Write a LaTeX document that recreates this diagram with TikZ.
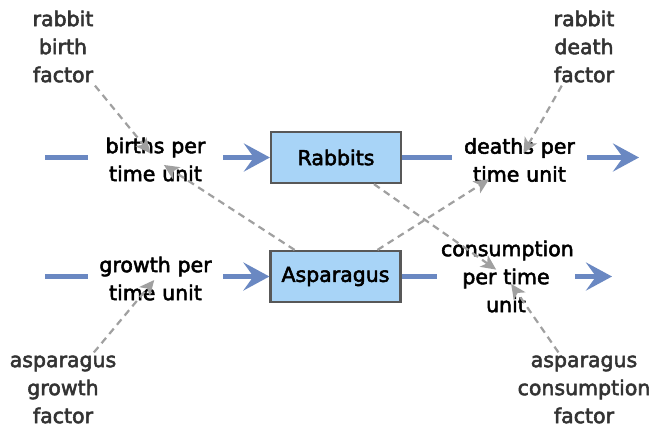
\documentclass[tikz,border=0pt]{standalone}
\usepackage{fontspec}
\setmainfont{DejaVu Sans}[FakeBold=2.6]
\usetikzlibrary{arrows.meta}
\definecolor{flowblue}{RGB}{106,136,194}
\definecolor{boxfill}{RGB}{168,212,247}
\definecolor{boxline}{RGB}{88,88,88}
\definecolor{inflgray}{RGB}{160,160,160}
\definecolor{factxt}{RGB}{51,51,51}
\begin{document}
\begin{tikzpicture}[x=1pt,y=-1pt,
  txt/.style={font=\fontsize{20.5pt}{28pt}\selectfont, align=center},
  stock/.style={txt, draw=boxline, line width=2.2pt, fill=boxfill, minimum width=130pt, minimum height=51pt, inner sep=0pt},
  rate/.style={txt, text width=127pt, inner xsep=4pt, inner ysep=2pt, text=black},
  factor/.style={txt, inner sep=3pt, text=factxt},
  flow/.style={draw=flowblue, line width=4.5pt},
  flowarr/.style={flow, -{Stealth[length=26pt,width=28pt,inset=10pt]}},
  infl/.style={draw=inflgray, line width=2.2pt, dash pattern=on 7pt off 5pt, -{Stealth[length=15pt,width=14pt,inset=4pt]}}
]
\useasboundingbox[fill=white] (0,0) rectangle (654,429);

% stocks
\node[stock] (rab) at (336,157.5) {Rabbits};
\node[stock] (asp) at (335.5,276.5) {Asparagus};

% rates
\node[rate] (births) at (155.5,159.5) {births per\\time unit};
\node[rate] (deaths) at (519.5,160) {deaths per\\time unit};
\node[rate] (growth) at (155.5,278.5) {growth per\\time unit};
\node[rate, text width=130pt] (cons) at (506,276.5) {consumption\\per time\\unit};

% factors
\node[factor] (rbf) at (63,46.5) {rabbit\\birth\\factor};
\node[factor] (rdf) at (584,46.5) {rabbit\\death\\factor};
\node[factor] (agf) at (63,389.5) {asparagus\\growth\\factor};
\node[factor] (acf) at (584,389.5) {asparagus\\consumption\\factor};

% sources and sinks
\coordinate (src1) at (45,157.5);
\coordinate (snk1) at (639,157.5);
\coordinate (src2) at (45,276.5);
\coordinate (snk2) at (612,276.5);

% flows
\draw[flow] (src1) -- (births.west |- src1);
\draw[flowarr] (births.east |- rab.west) -- (rab.west);
\draw[flow] (rab.east) -- (deaths.west |- rab.east);
\draw[flowarr] (deaths.east |- snk1) -- (snk1);
\draw[flow] (src2) -- (growth.west |- src2);
\draw[flowarr] (growth.east |- asp.west) -- (asp.west);
\draw[flow] (asp.east) -- (cons.west |- asp.east);
\draw[flowarr] (cons.east |- snk2) -- (snk2);

% influences
\draw[infl, shorten >=8pt] (rbf) -- (births.center);
\draw[infl, shorten >=10pt] (asp) -- (births.center);
\draw[infl, shorten >=8pt] (rdf) -- (deaths.center);
\draw[infl, shorten >=36pt] (asp) -- (deaths.center);
\draw[infl, shorten >=12pt] (rab) -- (cons.center);
\draw[infl, shorten >=9pt] (acf) -- (cons.center);
\draw[infl, shorten >=2pt] (agf) -- (growth.center);
\end{tikzpicture}
\end{document}
